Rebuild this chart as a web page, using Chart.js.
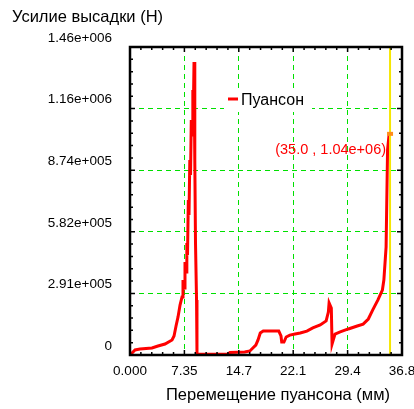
<!DOCTYPE html>
<html lang="ru">
<head>
    <meta charset="UTF-8" />
    <title>Усилие высадки</title>
    <style>
        body {
            margin: 0;
            background: #fff;
        }
        #chart-container {
            width: 414px;
            height: 409px;
        }
    </style>
    <script src="https://cdn.jsdelivr.net/npm/chart.js"></script>
</head>
<body>
<div id="chart-container">
    <canvas id="forceChart"></canvas>
</div>

<script>
  // перемещение пуансона, мм
  const strokeMm = [
    0, 0.68, 1.35, 2.97, 3.78, 4.73, 5.68, 5.95, 6.22, 6.49, 6.76,
    7.03, 7.16, 7.30, 7.43, 7.57, 7.68, 7.77, 7.88, 7.97, 8.08, 8.18, 8.28, 8.38,
    8.49, 8.58, 8.65, 8.73, 8.78, 8.85, 8.99, 9.05,
    9.46, 13.24, 13.5, 15.5, 16.2, 16.6, 17.0, 17.3, 17.6, 18.0, 19.2, 20.1,
    20.4, 20.5, 20.8, 21.1, 21.6, 22.3, 23.0, 23.9, 24.7, 25.7, 26.5, 26.8, 26.9,
    27.2, 27.3, 27.4, 27.7, 28.4, 29.5, 30.7, 31.5, 32.2, 32.8, 33.5, 34.1,
    34.3, 34.5, 34.6, 34.8, 35.0
  ];
  // усилие, Н
  const forceN = [
    0, 23600, 28000, 33000, 42500, 52000, 71000, 90000, 137000, 180000, 236000,
    274000, 354000, 316000, 439000, 392000, 529000, 472000, 732000, 661000, 921000, 850000, 1110000, 1039000,
    1252000, 1205000, 1384000, 1157000, 921000, 529000, 260000, 4700,
    4000, 4000, 12000, 14000, 19000, 33000, 47000, 71000, 104000, 113000, 113000, 113000,
    90000, 61000, 61000, 85000, 94000, 99000, 104000, 113000, 128000, 142000, 161000, 203000, 246000,
    222000, 52000, 52000, 99000, 109000, 123000, 137000, 146000, 170000, 213000, 260000, 307000,
    354000, 458000, 510000, 969000, 1040000
  ];

  const xTickValues = [0, 7.35, 14.7, 22.05, 29.4, 36.75];
  const xTickLabels = ["0.000", "7.35", "14.7", "22.1", "29.4", "36.8"];
  const yTickValues = [0, 291000, 582000, 873000, 1164000, 1455000];
  const yTickLabels = ["0", "2.91e+005", "5.82e+005", "8.74e+005", "1.16e+006", "1.46e+006"];

  const seriesName = "Пуансон";
  const cursorX = 35.0;
  const cursorY = 1040000;
  const cursorLabel = "(35.0 , 1.04e+06)";

  const FONT = "'Liberation Sans', Arial, sans-serif";
  const GRID_GREEN = "#00e000";

  const points = strokeMm.map((x, i) => ({ x: x, y: forceN[i] }));

  // рамка, мелкие риски, легенда, курсор
  const decorPlugin = {
    id: "decor",
    beforeDatasetsDraw(chart) {
      const ctx = chart.ctx;
      // легенда поверх сетки
      ctx.save();
      ctx.fillStyle = "#fff";
      ctx.fillRect(224, 90, 88, 22);
      ctx.strokeStyle = "#ff0000";
      ctx.lineWidth = 3;
      ctx.beginPath();
      ctx.moveTo(228, 99);
      ctx.lineTo(238, 99);
      ctx.stroke();
      ctx.fillStyle = "#000";
      ctx.font = "16px " + FONT;
      ctx.textBaseline = "middle";
      ctx.fillText(seriesName, 241, 101);
      ctx.restore();
    },
    afterDatasetsDraw(chart) {
      const ctx = chart.ctx;
      const area = chart.chartArea;
      const xs = chart.scales.x;
      const ys = chart.scales.y;

      ctx.save();
      // курсор
      const cx = xs.getPixelForValue(cursorX);
      ctx.strokeStyle = "#f5e600";
      ctx.lineWidth = 2;
      ctx.beginPath();
      ctx.moveTo(cx + 1, area.top);
      ctx.lineTo(cx + 1, area.bottom);
      ctx.stroke();
      const cy = ys.getPixelForValue(cursorY);
      ctx.fillStyle = "#ff8c1a";
      ctx.fillRect(cx - 2, cy - 3, 6, 4);
      ctx.fillStyle = "#ff0000";
      ctx.font = "14.5px " + FONT;
      ctx.textAlign = "right";
      ctx.textBaseline = "middle";
      ctx.fillText(cursorLabel, cx - 3, cy + 15);

      // риски
      ctx.strokeStyle = "#000";
      ctx.lineWidth = 1.5;
      ctx.beginPath();
      const xStep = (xTickValues[1] - xTickValues[0]) / 5;
      for (let i = 0; i <= 25; i++) {
        const px = xs.getPixelForValue(i * xStep);
        const len = i % 5 === 0 ? 5 : 3;
        ctx.moveTo(px, area.bottom);
        ctx.lineTo(px, area.bottom - len);
        ctx.moveTo(px, area.top);
        ctx.lineTo(px, area.top + len);
      }
      const yStep = (yTickValues[1] - yTickValues[0]) / 5;
      for (let i = 0; i <= 25; i++) {
        const py = ys.getPixelForValue(i * yStep);
        const len = i % 5 === 0 ? 5 : 3;
        ctx.moveTo(area.left, py);
        ctx.lineTo(area.left + len, py);
        ctx.moveTo(area.right, py);
        ctx.lineTo(area.right - len, py);
      }
      ctx.stroke();

      // рамка
      ctx.lineWidth = 2.5;
      ctx.strokeRect(area.left, area.top, area.right - area.left, area.bottom - area.top);
      ctx.restore();
    },
    afterDraw(chart) {
      const ctx = chart.ctx;
      ctx.save();
      ctx.fillStyle = "#000";
      ctx.font = "16.5px " + FONT;
      ctx.textBaseline = "middle";
      ctx.textAlign = "left";
      ctx.fillText("Усилие высадки (Н)", 12, 17);
      ctx.textAlign = "center";
      ctx.fillText("Перемещение пуансона (мм)", 278, 395);
      ctx.restore();
    },
  };

  const ctx = document.getElementById("forceChart").getContext("2d");
  new Chart(ctx, {
    type: "line",
    data: {
      datasets: [
        {
          label: seriesName,
          data: points,
          borderColor: "#ff0000",
          borderWidth: 3,
          pointRadius: 0,
          tension: 0,
          fill: false,
        },
      ],
    },
    options: {
      responsive: true,
      maintainAspectRatio: false,
      animation: false,
      layout: {
        padding: { top: 47, right: 0, left: 0, bottom: 0 },
      },
      scales: {
        x: {
          type: "linear",
          min: 0,
          max: 36.75,
          afterBuildTicks: (scale) => {
            scale.ticks = xTickValues.map((v) => ({ value: v }));
          },
          afterFit: (scale) => {
            scale.height = 54;
            scale.paddingRight = 12;
          },
          grid: {
            color: (c) => (c.index === 0 || c.index === xTickValues.length - 1 ? "transparent" : GRID_GREEN),
            lineWidth: 1,
            drawTicks: false,
          },
          border: { display: false, dash: [5, 4] },
          ticks: {
            padding: 8,
            color: "#000",
            font: { family: FONT, size: 13.5 },
            maxRotation: 0,
            callback: (value, index) => xTickLabels[index],
          },
        },
        y: {
          type: "linear",
          min: 0,
          max: 1455000,
          afterBuildTicks: (scale) => {
            scale.ticks = yTickValues.map((v) => ({ value: v }));
          },
          afterFit: (scale) => {
            scale.width = 130;
          },
          grid: {
            color: (c) => (c.index === 0 || c.index === yTickValues.length - 1 ? "transparent" : GRID_GREEN),
            lineWidth: 1,
            drawTicks: false,
          },
          border: { display: false, dash: [5, 4] },
          ticks: {
            padding: 18,
            labelOffset: -9,
            color: "#000",
            font: { family: FONT, size: 13.5 },
            callback: (value, index) => yTickLabels[index],
          },
        },
      },
      plugins: {
        legend: { display: false },
        tooltip: { enabled: false },
      },
    },
    plugins: [decorPlugin],
  });
</script>
</body>
</html>
